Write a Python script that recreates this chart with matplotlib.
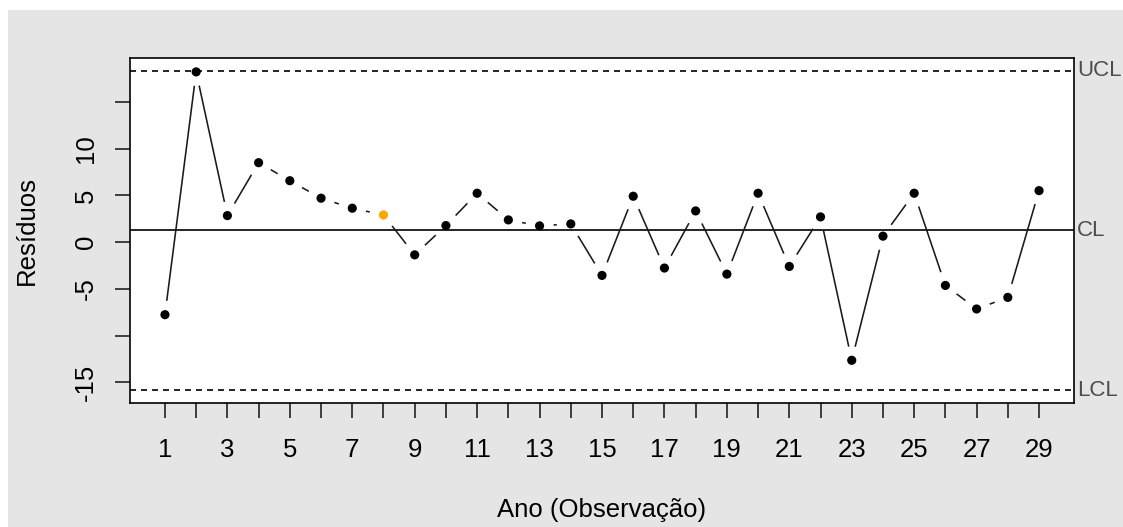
import matplotlib
matplotlib.use("Agg")
import matplotlib.pyplot as plt
import matplotlib.transforms as mtransforms
from matplotlib.patches import Rectangle
import numpy as np

# ============================================================
# DATA
# ============================================================
obs = np.arange(1, 30)
residuos = [-7.76, 18.21, 2.84, 8.50, 6.57, 4.70, 3.63, 2.91, -1.36, 1.77,
            5.23, 2.38, 1.74, 1.95, -3.56, 4.91, -2.77, 3.34, -3.42, 5.23,
            -2.60, 2.70, -12.64, 0.64, 5.23, -4.63, -7.15, -5.91, 5.51]
cl = 1.29
ucl = 18.33
lcl = -15.84
violating = [8]  # observation flagged in orange

x_ticks = list(range(1, 30))
x_labels = [str(i) if i % 2 == 1 else "" for i in x_ticks]
y_ticks = [15, 10, 5, 0, -5, -10, -15]
y_labels = ["", "10", "5", "0", "-5", "", "-15"]

# ============================================================
# PLOT CONFIGURATION
# ============================================================
plt.rcParams['font.family'] = ['Liberation Sans', 'DejaVu Sans']
plt.rcParams['font.size'] = 18.5

W, H = 1123, 527
fig = plt.figure(figsize=(W / 100, H / 100), dpi=100)
fig.patch.set_facecolor('white')
fig.patches.append(Rectangle((8 / W, 0), 1 - 8 / W, 1 - 10 / H,
                             transform=fig.transFigure, facecolor='#e5e5e5',
                             edgecolor='none', zorder=-10))

ax = fig.add_axes([130 / W, 1 - 403 / H, (1074 - 130) / W, (403 - 58) / H])
ax.set_facecolor('white')
for sp in ax.spines.values():
    sp.set_linewidth(1.2)
    sp.set_color('black')

# axis limits like R (4% extension)
xr = obs[-1] - obs[0]
ax.set_xlim(obs[0] - 0.04 * xr, obs[-1] + 0.04 * xr)
yr = ucl - lcl
ax.set_ylim(lcl - 0.04 * yr, ucl + 0.04 * yr)

# ============================================================
# CONTROL LIMITS
# ============================================================
ax.axhline(cl, color='black', lw=1.2)
ax.axhline(ucl, color='black', lw=1.2, dashes=(3.6, 3.0))
ax.axhline(lcl, color='black', lw=1.2, dashes=(3.6, 3.0))

lab_tr = mtransforms.blended_transform_factory(ax.transAxes, ax.transData)
for val, txt in [(ucl, 'UCL'), (cl, 'CL'), (lcl, 'LCL')]:
    ax.text(1.0 + 3 / 944, val, txt, transform=lab_tr, ha='left', va='center',
            color='#4d4d4d', fontsize=16, clip_on=False)

# ============================================================
# SERIES (R type="b": lines with gaps around points)
# ============================================================
pts = ax.transData.transform(np.column_stack([obs, residuos]))
inv = ax.transData.inverted()
gap = 14.0
for p0, p1 in zip(pts[:-1], pts[1:]):
    d = p1 - p0
    L = np.hypot(*d)
    if L <= 2 * gap:
        continue
    u = d / L
    a = inv.transform(p0 + u * gap)
    b = inv.transform(p1 - u * gap)
    ax.plot([a[0], b[0]], [a[1], b[1]], color='#1a1a1a', lw=1.15,
            solid_capstyle='butt')

colors = ['#FFA500' if o in violating else 'black' for o in obs]
ax.scatter(obs, residuos, s=6.6 ** 2, c=colors, zorder=5, linewidths=0)

# ============================================================
# AXES, TICKS, LABELS
# ============================================================
ax.set_xticks(x_ticks)
ax.set_xticklabels(x_labels)
ax.set_yticks(y_ticks)
ax.set_yticklabels(y_labels, rotation=90, va='center')
ax.tick_params(axis='both', length=11, width=1.2, direction='out', color='#222222')
ax.tick_params(axis='x', pad=14)
ax.tick_params(axis='y', pad=12)

ax.set_xlabel('Ano (Observação)', va='center')
ax.xaxis.set_label_coords(0.5, (403 - 510) / 345)
ax.set_ylabel('Resíduos', va='center')
ax.yaxis.set_label_coords((27 - 130) / 944, 0.5)

fig.savefig('out.png', dpi=100)
